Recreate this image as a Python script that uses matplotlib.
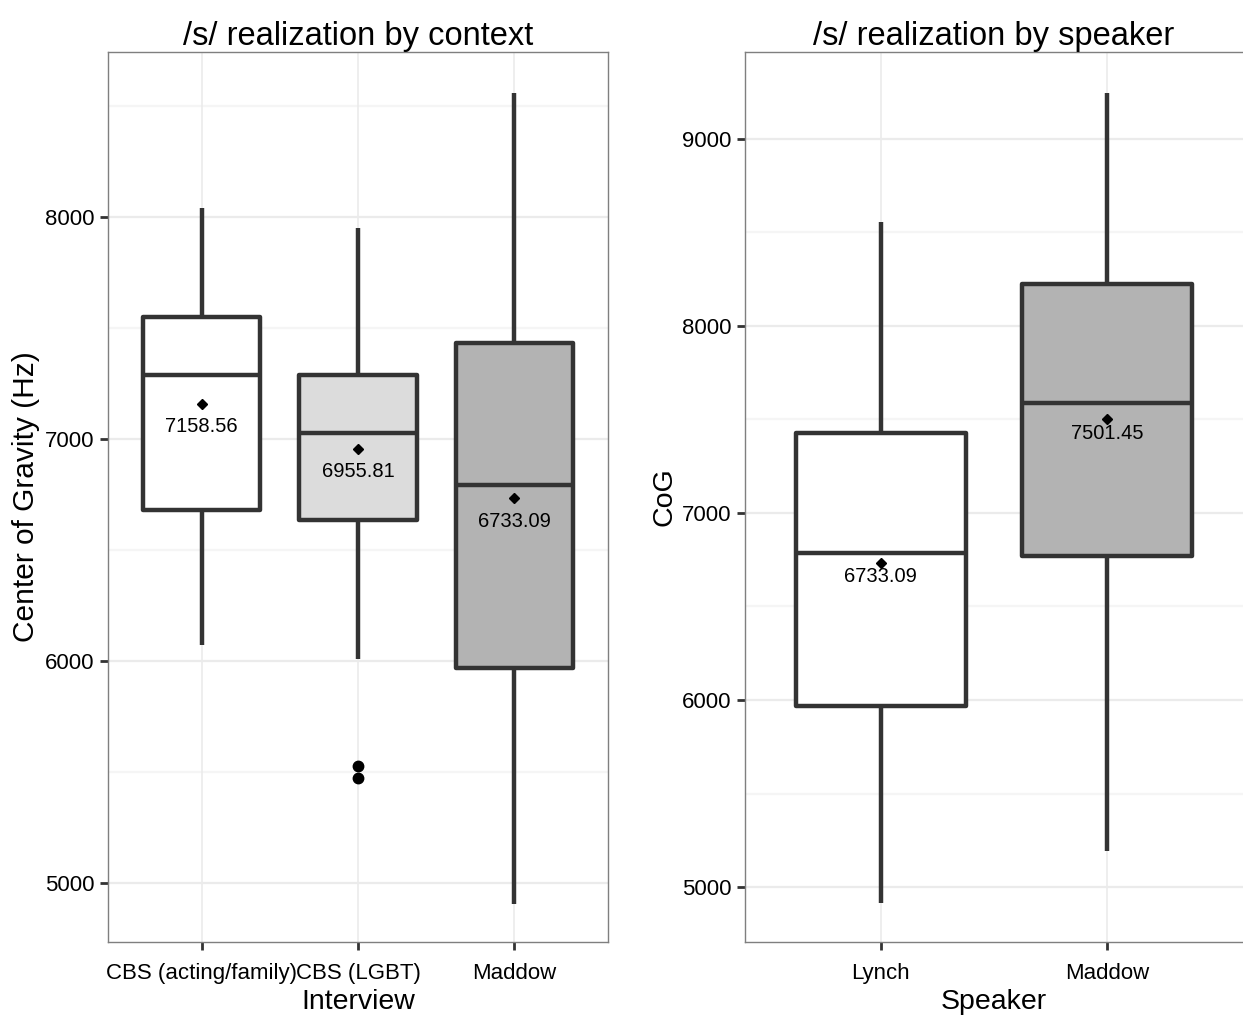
import matplotlib
matplotlib.use("Agg")
import matplotlib.pyplot as plt
import numpy as np

plt.rcParams['font.family'] = ['Liberation Sans', 'DejaVu Sans']

# ---- data: left panel (by context) ----
contexts = ['CBS (acting/family)', 'CBS (LGBT)', 'Maddow']
ctx_whislo = [6072, 6009, 4905]
ctx_q1 = [6680, 6635, 5968]
ctx_med = [7289, 7027, 6793]
ctx_q3 = [7550, 7288, 7432]
ctx_whishi = [8042, 7950, 8559]
ctx_mean = [7158.56, 6955.81, 6733.09]
ctx_fliers = [[], [5527, 5473], []]
ctx_fill = ['#ffffff', '#dcdcdc', '#b3b3b3']

# ---- data: right panel (by speaker) ----
speakers = ['Lynch', 'Maddow']
spk_whislo = [4914, 5193]
spk_q1 = [5969, 6771]
spk_med = [6786, 7588]
spk_q3 = [7429, 8227]
spk_whishi = [8556, 9246]
spk_mean = [6733.09, 7501.45]
spk_fliers = [[], []]
spk_fill = ['#ffffff', '#b3b3b3']

EDGE = '#333333'

fig = plt.figure(figsize=(12.43, 10.15), dpi=100)
W, H = 1243, 1015


def make_ax(x0, x1, y0, y1):
    return fig.add_axes([x0 / W, 1 - y1 / H, (x1 - x0) / W, (y1 - y0) / H])


def draw(ax, cats, whislo, q1, med, q3, whishi, mean, fliers, fills,
         ylim, majors, minors, title, xlabel, ylabel, label_off, ylab_size):
    n = len(cats)
    pos = np.arange(1, n + 1)
    stats = []
    for i in range(n):
        stats.append(dict(med=med[i], q1=q1[i], q3=q3[i], whislo=whislo[i],
                          whishi=whishi[i], fliers=fliers[i], mean=mean[i]))
    ax.set_xlim(0.4, n + 0.6)
    ax.set_ylim(*ylim)
    # grid
    for v in minors:
        ax.axhline(v, color='#f5f5f5', lw=1.6, zorder=0)
    for v in majors:
        ax.axhline(v, color='#ebebeb', lw=1.6, zorder=0)
    for p in pos:
        ax.axvline(p, color='#ebebeb', lw=1.2, zorder=0)
    bp = ax.bxp(stats, positions=pos, widths=0.75, showcaps=False,
                showmeans=False, patch_artist=True,
                boxprops=dict(edgecolor=EDGE, linewidth=3.2),
                whiskerprops=dict(color=EDGE, linewidth=3.2),
                medianprops=dict(color=EDGE, linewidth=3.2, solid_capstyle='butt'),
                flierprops=dict(marker='o', markerfacecolor='black',
                                markeredgecolor='black', markersize=7.5))
    for patch, fc in zip(bp['boxes'], fills):
        patch.set_facecolor(fc)
        patch.set_joinstyle('round')
    for w in bp['whiskers']:
        w.set_solid_capstyle('butt')
    for i in range(n):
        ax.plot(pos[i], mean[i], marker='D', color='black', markersize=5,
                zorder=5)
        ax.annotate(f'{mean[i]:.2f}', xy=(pos[i], mean[i]),
                    xytext=(0, -label_off), textcoords='offset pixels',
                    ha='center', va='center', fontsize=14.5, color='black',
                    zorder=6)
    ax.set_xticks(pos)
    ax.set_xticklabels(cats, fontsize=16)
    ax.set_yticks(majors)
    ax.set_yticklabels([str(v) for v in majors], fontsize=16)
    ax.tick_params(axis='both', direction='out', length=6, width=2,
                   color='#333333')
    ax.tick_params(axis='x', pad=9)
    ax.tick_params(axis='y', pad=4)
    for s in ax.spines.values():
        s.set_color('#7f7f7f')
        s.set_linewidth(1.0)
    ax.set_title(title, fontsize=23.5, pad=5)
    ax.set_xlabel(xlabel, fontsize=20.5, labelpad=4)
    ax.set_ylabel(ylabel, fontsize=ylab_size, labelpad=3)


ax1 = make_ax(108, 608, 52, 942)
draw(ax1, contexts, ctx_whislo, ctx_q1, ctx_med, ctx_q3, ctx_whishi, ctx_mean,
     ctx_fliers, ctx_fill, (4734, 8743), [5000, 6000, 7000, 8000],
     [5500, 6500, 7500, 8500], '/s/ realization by context', 'Interview',
     'Center of Gravity (Hz)', 23, 21.5)

ax2 = make_ax(745, 1243, 52, 942)
draw(ax2, speakers, spk_whislo, spk_q1, spk_med, spk_q3, spk_whishi, spk_mean,
     spk_fliers, spk_fill, (4706, 9465), [5000, 6000, 7000, 8000, 9000],
     [5500, 6500, 7500, 8500], '/s/ realization by speaker', 'Speaker',
     'CoG', 14, 20.5)
ax2.spines['right'].set_visible(False)

fig.savefig('out.png', dpi=100)
